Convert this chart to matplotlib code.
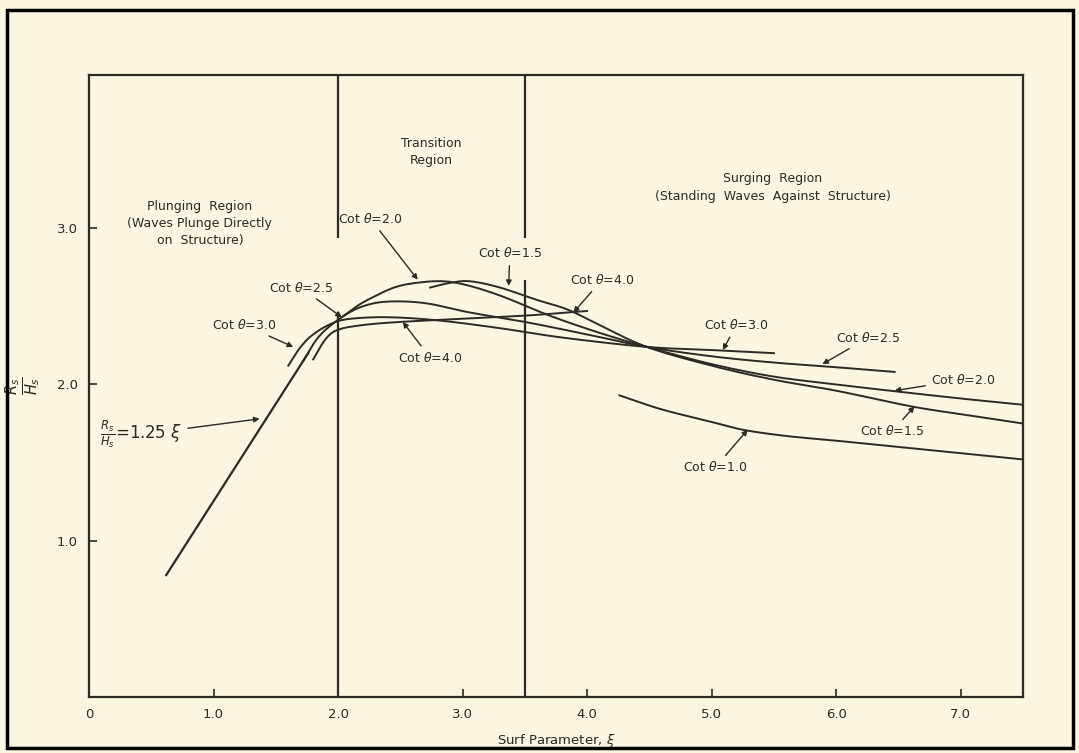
import numpy as np
import matplotlib
matplotlib.use('Agg')
import matplotlib.pyplot as plt
from matplotlib.patches import Rectangle

# data
line_xi = [0.62, 1.76]
line_r = [0.78, 2.20]

cot40_xi = [1.80, 1.90, 2.00, 2.20, 2.50, 3.00, 3.50, 4.00]
cot40_r = [2.16, 2.29, 2.35, 2.38, 2.40, 2.42, 2.44, 2.47]

cot30_xi = [1.60, 1.70, 1.80, 1.95, 2.10, 2.40, 2.80, 3.30, 3.80, 4.48, 5.00, 5.50]
cot30_r = [2.12, 2.24, 2.32, 2.39, 2.42, 2.43, 2.41, 2.36, 2.30, 2.24, 2.22, 2.20]

cot25_xi = [1.72, 1.85, 2.03, 2.20, 2.40, 2.70, 3.06, 3.50, 4.00, 4.48, 5.00, 5.50, 6.00, 6.47]
cot25_r = [2.15, 2.31, 2.43, 2.50, 2.53, 2.52, 2.46, 2.40, 2.32, 2.24, 2.18, 2.14, 2.11, 2.08]

cot20_xi = [2.03, 2.15, 2.26, 2.45, 2.63, 2.85, 3.06, 3.33, 3.70, 4.10, 4.48, 5.00, 5.50, 6.00, 6.43, 7.00, 7.50]
cot20_r = [2.43, 2.50, 2.55, 2.62, 2.65, 2.66, 2.63, 2.56, 2.44, 2.33, 2.24, 2.13, 2.05, 2.00, 1.96, 1.91, 1.87]

cot15_xi = [2.74, 2.90, 3.06, 3.30, 3.60, 3.84, 4.10, 4.48, 5.00, 5.50, 6.00, 6.60, 7.00, 7.50]
cot15_r = [2.62, 2.65, 2.66, 2.62, 2.54, 2.48, 2.38, 2.24, 2.12, 2.03, 1.96, 1.86, 1.81, 1.75]

cot10_xi = [4.26, 4.60, 5.00, 5.25, 5.60, 6.00, 6.50, 7.00, 7.50]
cot10_r = [1.93, 1.84, 1.76, 1.71, 1.67, 1.64, 1.60, 1.56, 1.52]

xticks = [0, 1, 2, 3, 4, 5, 6, 7]
xtick_labels = ['0', '1.0', '2.0', '3.0', '4.0', '5.0', '6.0', '7.0']
yticks = [1, 2, 3]
ytick_labels = ['1.0', '2.0', '3.0']

bg = '#faf6e1'
ink = '#2b2a24'

fig = plt.figure(figsize=(10.79, 7.53), dpi=100, facecolor=bg)
ax = fig.add_axes([0.0825, 0.0744, 0.8655, 0.826])
ax.set_facecolor(bg)

# catmull-rom through the read points so the pen curves look smooth
def smooth(xs, ys, n=20):
    p = np.column_stack([xs, ys])
    p = np.vstack([2 * p[0] - p[1], p, 2 * p[-1] - p[-2]])
    out = []
    t = np.linspace(0, 1, n, endpoint=False)[:, None]
    for i in range(1, len(p) - 2):
        p0, p1, p2, p3 = p[i - 1], p[i], p[i + 1], p[i + 2]
        seg = 0.5 * ((2 * p1) + (-p0 + p2) * t + (2 * p0 - 5 * p1 + 4 * p2 - p3) * t ** 2
                     + (-p0 + 3 * p1 - 3 * p2 + p3) * t ** 3)
        out.append(seg)
    out.append(p[-2][None, :])
    out = np.vstack(out)
    return out[:, 0], out[:, 1]

ax.plot(line_xi, line_r, color=ink, lw=1.6)
for xs, ys in [(cot40_xi, cot40_r), (cot30_xi, cot30_r), (cot25_xi, cot25_r),
               (cot20_xi, cot20_r), (cot15_xi, cot15_r), (cot10_xi, cot10_r)]:
    xx, yy = smooth(xs, ys)
    ax.plot(xx, yy, color=ink, lw=1.4)

# region boundaries (broken where the labels sit)
ax.vlines(2.0, 0, 2.46, color=ink, lw=1.6)
ax.vlines(2.0, 2.94, 4.0, color=ink, lw=1.6)
ax.vlines(3.5, 0, 2.67, color=ink, lw=1.6)
ax.vlines(3.5, 2.94, 4.0, color=ink, lw=1.6)

ax.set_xlim(0, 7.5)
ax.set_ylim(0, 3.98)
ax.set_xticks(xticks)
ax.set_xticklabels(xtick_labels)
ax.set_yticks(yticks)
ax.set_yticklabels(ytick_labels)
ax.tick_params(direction='in', length=6, width=1.2, colors=ink, labelsize=9.5, pad=8)
for s in ax.spines.values():
    s.set_color(ink)
    s.set_linewidth(1.6)

ax.set_xlabel('Surf Parameter, $\\xi$', fontsize=9.5, color=ink, labelpad=8)
ax.set_ylabel('$\\frac{R_s}{H_s}$', fontsize=15, color=ink, labelpad=10)

tk = dict(fontsize=9, color=ink, ha='center', va='center')
ax.text(0.89, 3.03, 'Plunging  Region\n(Waves Plunge Directly\non  Structure)', linespacing=1.4, **tk)
ax.text(2.75, 3.49, 'Transition\nRegion', linespacing=1.4, **tk)
ax.text(5.49, 3.26, 'Surging  Region\n(Standing  Waves  Against  Structure)', linespacing=1.5, **tk)

arr = dict(arrowstyle='-|>', color=ink, lw=1.0, mutation_scale=8, shrinkA=2, shrinkB=0)
labels = [
    ('Cot $\\theta$=2.0', (2.26, 3.06), (2.64, 2.67)),
    ('Cot $\\theta$=1.5', (3.38, 2.84), (3.37, 2.63)),
    ('Cot $\\theta$=2.5', (1.70, 2.62), (2.03, 2.43)),
    ('Cot $\\theta$=3.0', (1.25, 2.38), (1.64, 2.24)),
    ('Cot $\\theta$=4.0', (2.74, 2.17), (2.52, 2.40)),
    ('Cot $\\theta$=4.0', (4.12, 2.67), (3.89, 2.46)),
    ('Cot $\\theta$=3.0', (5.20, 2.38), (5.09, 2.22)),
    ('Cot $\\theta$=2.5', (6.26, 2.30), (5.89, 2.13)),
    ('Cot $\\theta$=2.0', (7.02, 2.03), (6.47, 1.96)),
    ('Cot $\\theta$=1.5', (6.45, 1.70), (6.63, 1.86)),
    ('Cot $\\theta$=1.0', (5.03, 1.47), (5.29, 1.71)),
]
for txt, xyt, xy in labels:
    ax.annotate(txt, xy=xy, xytext=xyt, fontsize=9, color=ink,
                ha='center', va='center', arrowprops=arr)

ax.annotate('$\\frac{R_s}{H_s}$=1.25 $\\xi$', xy=(1.37, 1.78), xytext=(0.42, 1.68),
            fontsize=12, color=ink, ha='center', va='center', arrowprops=arr)

fig.add_artist(Rectangle((7 / 1079, 5 / 753), 1066 / 1079, 738 / 753,
                         transform=fig.transFigure, fill=False, ec='black', lw=2.5))

fig.savefig('out.png', dpi=100, facecolor=bg)
